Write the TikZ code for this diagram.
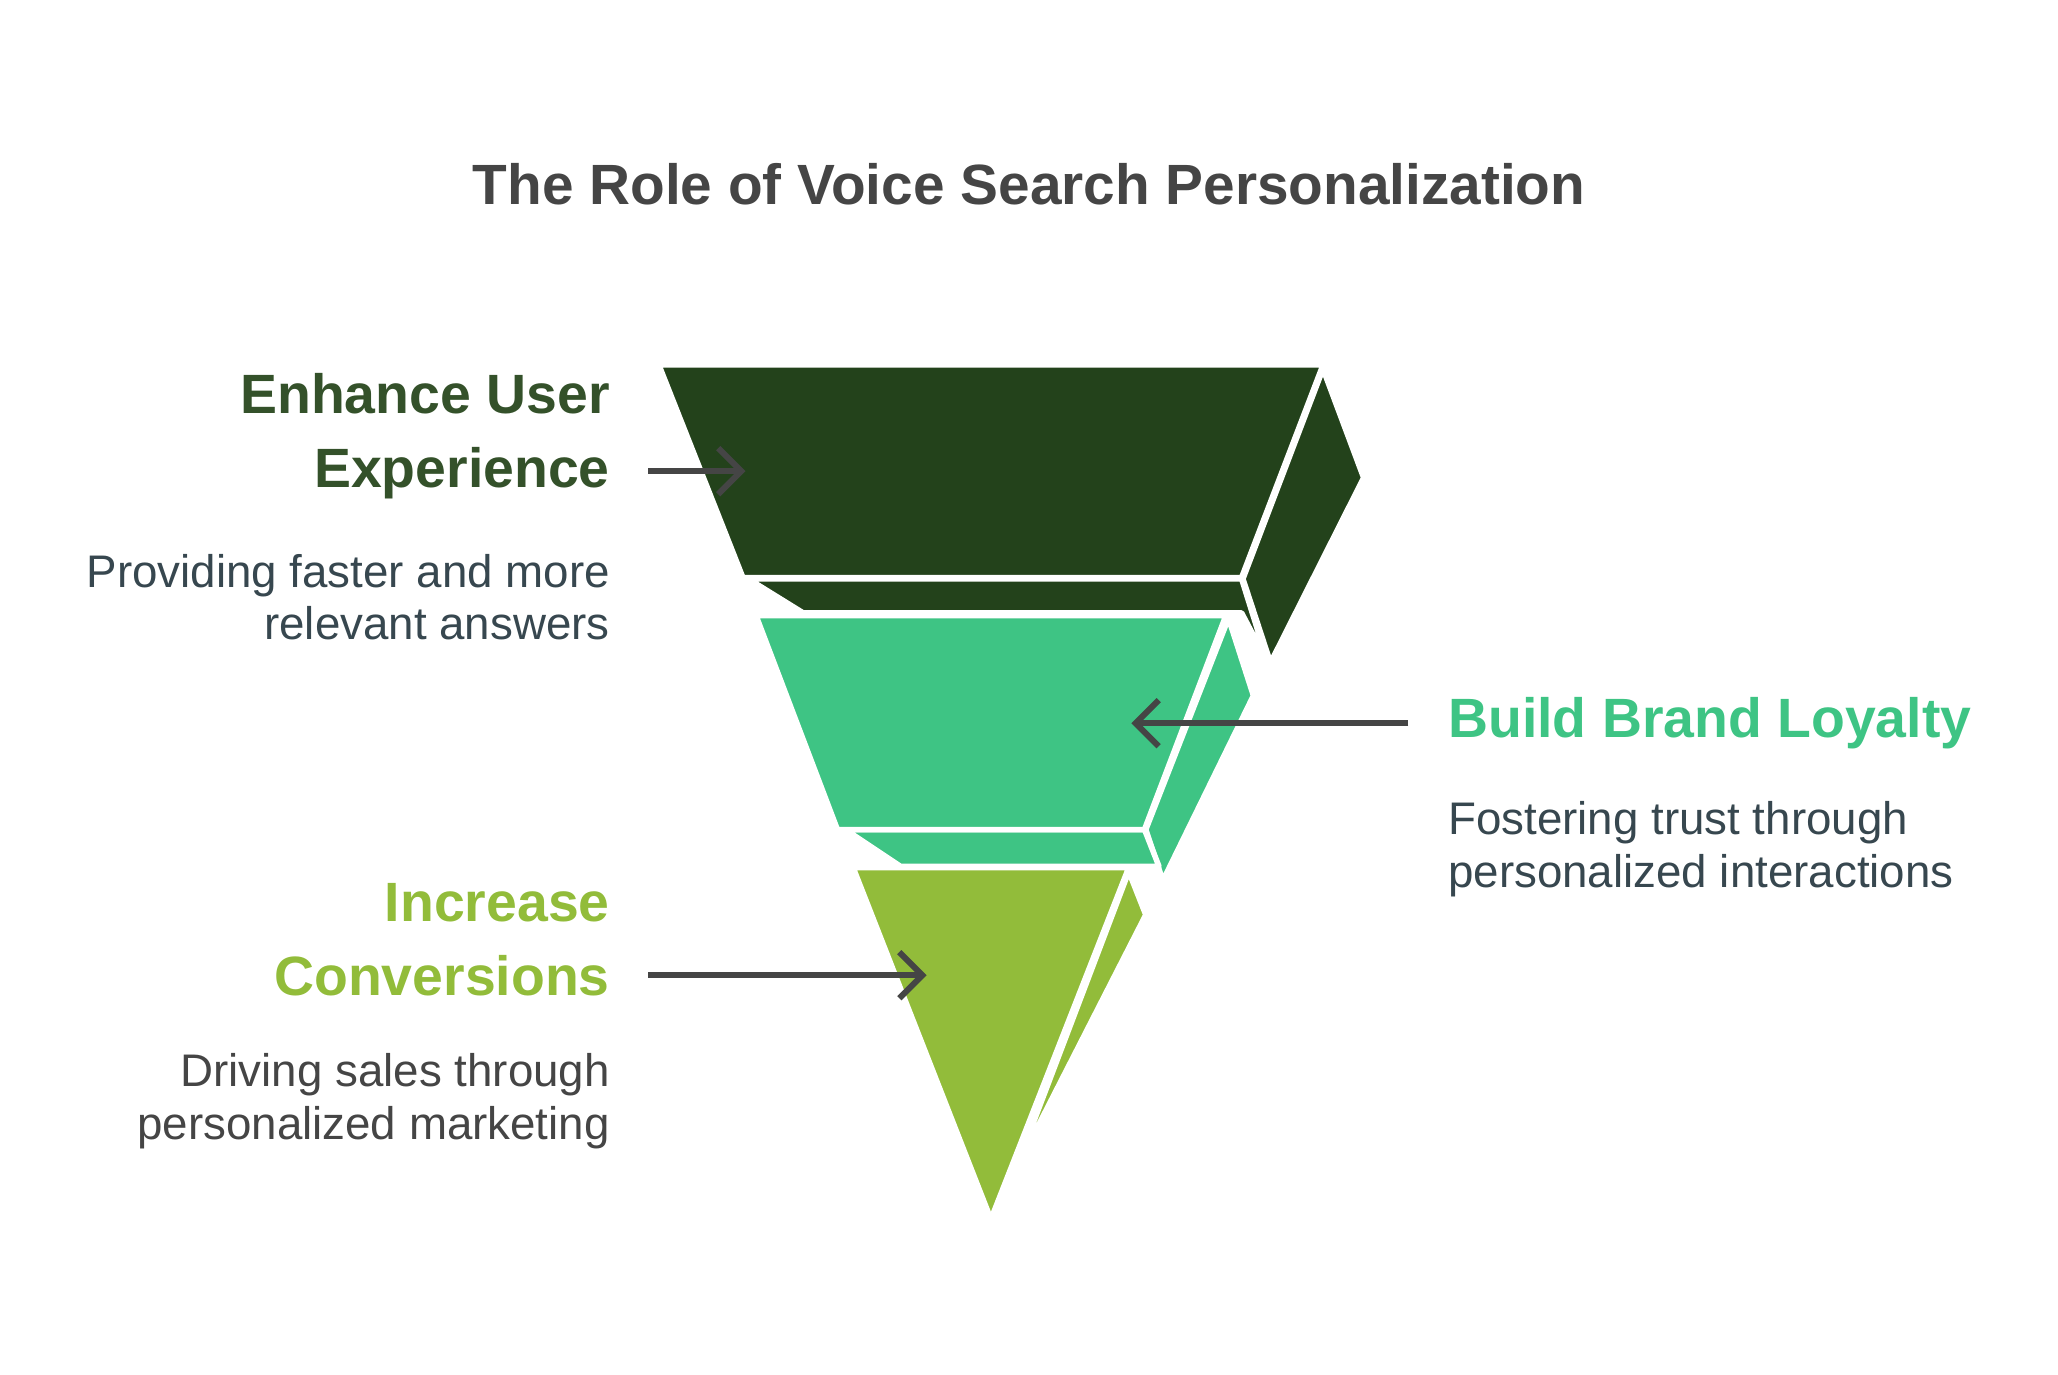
\documentclass[tikz,border=0pt]{standalone}
\usepackage{fontspec}
\setmainfont{Liberation Sans}
\usetikzlibrary{arrows.meta}
\definecolor{darkgreen}{HTML}{23421B}
\definecolor{midgreen}{HTML}{3EC484}
\definecolor{lightgreen}{HTML}{92BC3A}
\definecolor{titlegray}{HTML}{454545}
\definecolor{textgray}{HTML}{37474F}
\definecolor{headdark}{HTML}{34512A}
\begin{document}
\begin{tikzpicture}[x=0.01cm,y=-0.01cm,
    face/.style={draw=white,line width=1.2pt,line join=round},
    head/.style={font=\fontsize{12}{16}\selectfont\bfseries,align=right,anchor=east},
    desc/.style={font=\fontsize{9.9}{11.4}\selectfont,text=textgray,align=right,anchor=east},
    pointer/.style={draw=titlegray,line width=1.3pt,-{Straight Barb[length=5pt,width=10pt]}}]
    \useasboundingbox (0,0) rectangle (1568,1047);

    % --------------------------------------------------------- %
    % ------------- title
    % --------------------------------------------------------- %
    \node[text=titlegray,font=\fontsize{12.3}{15}\selectfont\bfseries] (title) at (784,140) {The Role of Voice Search Personalization};

    % --------------------------------------------------------- %
    % ------------- funnel
    % --------------------------------------------------------- %
    % --- top layer
    \fill[face,fill=darkgreen] (1008,281) -- (1039,364) -- (968,505) -- (947,441) -- cycle;
    \fill[face,fill=darkgreen] (570,441) -- (946,441) -- (966,505) -- (946,467) -- (612,467) -- cycle;
    \fill[face,fill=darkgreen] (502,278) -- (1008,278) -- (946,440) -- (566,440) -- cycle;
    \coordinate (top) at (568,359);
    % --- middle layer
    \fill[face,fill=midgreen] (936,471) -- (955,530) -- (886,671) -- (873,632) -- cycle;
    \fill[face,fill=midgreen] (644,632) -- (872,632) -- (883,660) -- (686,660) -- cycle;
    \fill[face,fill=midgreen] (576,469) -- (934,469) -- (872,632) -- (638,632) -- cycle;
    \coordinate (middle) at (862,551);
    % --- bottom layer
    \fill[face,fill=lightgreen] (860,664) -- (873,697) -- (773,893) -- cycle;
    \fill[face,fill=lightgreen] (650,661) -- (860,661) -- (755,929) -- cycle;
    \coordinate (bottom) at (706,743);

    % --------------------------------------------------------- %
    % ------------- labels
    % --------------------------------------------------------- %
    % --- Enhance User Experience
    \node[head,text=headdark] (enhance) at (477,332) {Enhance User\\Experience};
    \node[desc] (enhancedesc) at (477,455) {Providing faster and more\\relevant answers};
    \coordinate (enhancestart) at (494,359);
    \draw[pointer] (enhancestart) -- (top);
    % --- Build Brand Loyalty
    \node[head,text=midgreen,anchor=west] (loyalty) at (1091,551) {Build Brand Loyalty};
    \node[desc,align=left,anchor=west] (loyaltydesc) at (1091,647) {Fostering trust through\\personalized interactions};
    \coordinate (loyaltystart) at (1073,551);
    \draw[pointer] (loyaltystart) -- (middle);
    % --- Increase Conversions
    \node[head,text=lightgreen] (conversions) at (477,716) {Increase\\Conversions};
    \node[desc,text=titlegray] (conversionsdesc) at (477,839) {Driving sales through\\personalized marketing};
    \coordinate (conversionsstart) at (494,743);
    \draw[pointer] (conversionsstart) -- (bottom);

\end{tikzpicture}
\end{document}
